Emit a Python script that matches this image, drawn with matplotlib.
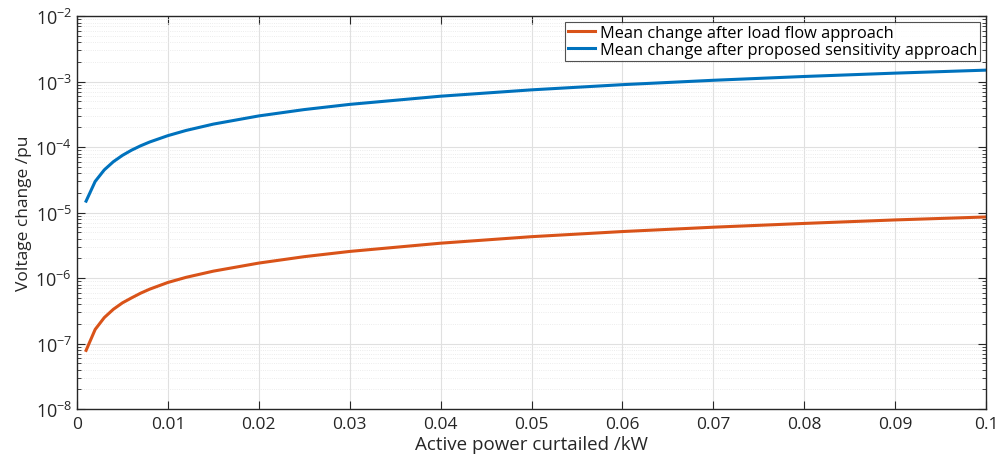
import matplotlib
matplotlib.use('Agg')
import matplotlib.pyplot as plt
from matplotlib.ticker import LogLocator, NullFormatter

# potencia cortada (kW) e variacao media de tensao (pu)
p_kw = [0.001, 0.002, 0.003, 0.004, 0.005, 0.006, 0.007, 0.008, 0.010, 0.012,
        0.015, 0.020, 0.025, 0.030, 0.040, 0.050, 0.060, 0.070, 0.080, 0.090, 0.100]
v_loadflow = [7.9e-8, 1.65e-7, 2.5e-7, 3.35e-7, 4.2e-7, 5.0e-7, 5.9e-7, 6.8e-7, 8.6e-7, 1.03e-6,
              1.28e-6, 1.7e-6, 2.13e-6, 2.56e-6, 3.42e-6, 4.3e-6, 5.15e-6, 6.0e-6, 6.85e-6, 7.75e-6, 8.6e-6]
v_sens = [1.5e-5, 3.0e-5, 4.5e-5, 6.0e-5, 7.5e-5, 9.0e-5, 1.05e-4, 1.2e-4, 1.5e-4, 1.8e-4,
          2.25e-4, 3.0e-4, 3.75e-4, 4.5e-4, 6.0e-4, 7.5e-4, 9.0e-4, 1.05e-3, 1.2e-3, 1.35e-3, 1.5e-3]

xticks = [0, 0.01, 0.02, 0.03, 0.04, 0.05, 0.06, 0.07, 0.08, 0.09, 0.1]
xticklabels = ['0', '0.01', '0.02', '0.03', '0.04', '0.05', '0.06', '0.07', '0.08', '0.09', '0.1']

plt.rcParams['font.family'] = ['Open Sans', 'DejaVu Sans']
plt.rcParams['mathtext.fontset'] = 'custom'
plt.rcParams['mathtext.rm'] = 'Open Sans'

fig = plt.figure(figsize=(10, 4.64), dpi=100)
ax = fig.add_axes([0.077, 0.116, 0.909, 0.847])

ax.plot(p_kw, v_loadflow, color='#D95319', lw=2.2, label='Mean change after load flow approach')
ax.plot(p_kw, v_sens, color='#0072BD', lw=2.2, label='Mean change after proposed sensitivity approach')

ax.set_yscale('log')
ax.set_xlim(0, 0.1)
ax.set_ylim(1e-8, 1e-2)
ax.set_xticks(xticks)
ax.set_xticklabels(xticklabels)
ax.yaxis.set_major_locator(LogLocator(base=10, numticks=10))
ax.yaxis.set_minor_locator(LogLocator(base=10, subs=range(2, 10), numticks=20))
ax.yaxis.set_minor_formatter(NullFormatter())

ax.grid(True, which='major', color='#e0e0e0', lw=0.8)
ax.grid(True, which='minor', axis='y', color='#e6e6e6', lw=0.6, ls=':')
ax.tick_params(which='both', direction='in', top=True, right=True, colors='#262626', labelsize=13)
ax.tick_params(which='major', length=6)
ax.tick_params(which='minor', length=3)
ax.tick_params(axis='x', pad=5, labelsize=12.5)
for s in ax.spines.values():
    s.set_color('#262626')
    s.set_linewidth(1)

ax.set_xlabel('Active power curtailed /kW', fontsize=13.5, color='#262626', labelpad=2)
ax.set_ylabel('Voltage change /pu', fontsize=12.5, color='#262626', labelpad=2)

leg = ax.legend(loc='upper right', fontsize=11.8, frameon=True, fancybox=False,
                edgecolor='#262626', handlelength=1.6, handletextpad=0.3,
                borderpad=0.2, labelspacing=0.05, borderaxespad=0.35)
leg.get_frame().set_linewidth(0.8)

fig.savefig('out.png', dpi=100)
